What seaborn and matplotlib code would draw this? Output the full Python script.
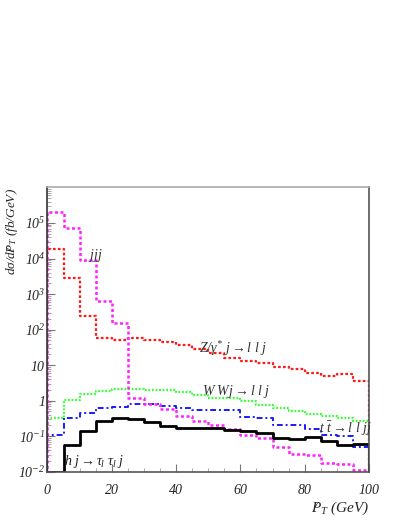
import numpy as np
import pandas as pd
import matplotlib
matplotlib.use('Agg')
import matplotlib.pyplot as plt
import seaborn as sns

# bin edges in missing pT (GeV), 5 GeV bins
edges = list(range(0, 105, 5))

# dsigma/dpT per bin (fb/GeV)
jjj = [2.0e5, 7.2e4, 9.0e3, 630, 155, 1.15, 0.82, 0.6, 0.38, 0.26,
       0.21, 0.16, 0.105, 0.09, 0.05, 0.032, 0.03, 0.018, 0.017, 0.011]
zj = [1.87e4, 2.8e3, 245, 57, 50, 57, 50, 44, 36, 28,
      21.6, 16, 13, 11.2, 8.8, 7.6, 5.9, 5.0, 5.5, 3.5]
wwj = [0.33, 1.07, 1.56, 1.85, 2.1, 2.15, 1.97, 1.97, 1.73, 1.45,
       1.15, 1.15, 0.96, 0.74, 0.625, 0.5, 0.43, 0.36, 0.33, 0.26]
ttbar = [0.105, 0.33, 0.45, 0.625, 0.65, 0.78, 0.78, 0.72, 0.625, 0.56,
         0.54, 0.54, 0.34, 0.32, 0.21, 0.2, 0.155, 0.11, 0.1, 0.049]
hj = [0.0101, 0.057, 0.142, 0.26, 0.32, 0.30, 0.244, 0.197, 0.17, 0.175,
      0.17, 0.145, 0.14, 0.119, 0.088, 0.085, 0.092, 0.071, 0.055, 0.060]

floor = 1e-3  # below the axis, so histograms close to the bottom

def hist_frame(vals, name):
    # ROOT-style outline: up from the floor at 0, steps, down at 100
    x = [edges[0]] + edges + [edges[-1]]
    y = [floor] + list(vals) + [vals[-1], floor]
    return pd.DataFrame({'x': x, 'y': y, 'proc': name})

sns.set_style('ticks')
plt.rcParams['font.family'] = ['Liberation Serif', 'DejaVu Serif']
plt.rcParams['mathtext.fontset'] = 'custom'
plt.rcParams['mathtext.rm'] = 'Liberation Serif:italic'
plt.rcParams['mathtext.it'] = 'Liberation Serif:italic'
plt.rcParams['mathtext.bf'] = 'Liberation Serif:bold:italic'
plt.rcParams['mathtext.fallback'] = 'stix'

fig = plt.figure(figsize=(4.09, 5.29), dpi=100)
ax = fig.add_axes([0.1161, 0.1083, 0.786, 0.5373])

styles = [
    (zj, 'zj', '#ff1a1a', (0, (1.2, 1.0)), 1.6),
    (wwj, 'wwj', '#33ff33', (0, (0.8, 0.8)), 1.6),
    (ttbar, 'tt', '#1a1aff', (0, (3, 1.5, 1, 1.5)), 1.4),
    (jjj, 'jjj', '#ff22ff', (0, (1.2, 1.0)), 1.8),
    (hj, 'hj', 'black', '-', 2.0),
]
for vals, name, col, ls, lw in styles:
    df = hist_frame(vals, name)
    sns.lineplot(data=df, x='x', y='y', ax=ax, color=col, linestyle=ls,
                 linewidth=lw, drawstyle='steps-post', estimator=None,
                 sort=False, legend=False)

ax.set_yscale('log')
ax.set_xlim(0, 100)
ax.set_ylim(1e-2, 1e6)

# tick labels like the ROOT plot
ylabs = {1e-2: r'$10^{-2}$', 1e-1: r'$10^{-1}$', 1: r'$1$', 10: r'$10$',
         1e2: r'$10^{2}$', 1e3: r'$10^{3}$', 1e4: r'$10^{4}$', 1e5: r'$10^{5}$'}
ax.set_yticks(list(ylabs.keys()))
ax.set_yticklabels(list(ylabs.values()), fontsize=10)
ax.yaxis.set_minor_locator(matplotlib.ticker.LogLocator(base=10, subs=np.arange(2, 10), numticks=20))
ax.yaxis.set_minor_formatter(matplotlib.ticker.NullFormatter())
ax.set_xticks([0, 20, 40, 60, 80, 100])
ax.set_xticklabels([r'$%d$' % v for v in [0, 20, 40, 60, 80, 100]], fontsize=10)
ax.xaxis.set_minor_locator(matplotlib.ticker.MultipleLocator(5))
ax.tick_params(axis='both', which='major', direction='in', length=6, width=0.8,
               color='#777777')
ax.tick_params(axis='both', which='minor', direction='in', length=3, width=0.6,
               color='#999999')
ax.tick_params(axis='x', which='major', pad=8)
ax.tick_params(axis='y', which='major', pad=1.5)

for side, c in [('top', '#aaaaaa'), ('right', '#555555'), ('left', '#333333'), ('bottom', '#555555')]:
    ax.spines[side].set_visible(True)
    ax.spines[side].set_color(c)
    ax.spines[side].set_linewidth(1.2)

ax.set_ylabel(r'$d\sigma/d/\!\!\!P_T\ (fb/GeV)$', fontsize=9.5, loc='top')
ax.yaxis.set_label_coords(-0.087, 1.0)
ax.set_xlabel(r'$/\!\!\!P_T\ (GeV)$', fontsize=11, loc='right')
ax.xaxis.set_label_coords(1.0, -0.10)

# process labels
ax.text(12.5, 1.2e4, r'$jjj$', fontsize=10, color='#333333', ha='left', va='center')
ax.text(47, 30, r'$Z/\gamma^{*}\ j \rightarrow l\ l\ j$', fontsize=10, color='#333333', ha='left', va='center')
ax.text(48, 1.8, r'$W\ W j \rightarrow l\ l\ j$', fontsize=10, color='#333333', ha='left', va='center')
ax.text(84.5, 0.16, r'$t\ \bar{t} \rightarrow l\ l\ jj$', fontsize=10, color='#333333', ha='left', va='center')
ax.text(5, 0.02, r'$h\ j \rightarrow \tau_l\ \tau_l\ j$', fontsize=10, color='#222222', ha='left', va='center')

fig.savefig('out.png', dpi=100)
